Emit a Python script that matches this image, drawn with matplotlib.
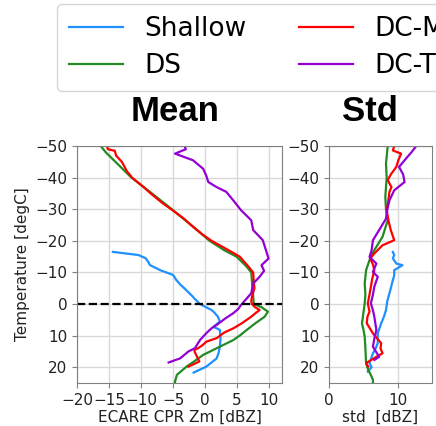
import matplotlib.pyplot as plt

# mean profiles (temperature in degC, value in dBZ)
mean_sh_t = [-16.5, -15.5, -14.5, -13.4, -12.3, -10.7, -9.2, -7.6, -6, -4.9, -2.3, -1.8, 0, 1.9, 2.4,
             4, 5.6, 7.2, 8.2, 11, 13.5, 15.5, 17.2, 18.5, 19.8, 21.7]
mean_sh = [-14.4, -10.4, -9.3, -8.9, -8.6, -7.0, -5.0, -4.5, -3.8, -3.2, -1.9, -1.7, -0.8, 1.0, 1.3,
           2.0, 2.3, 1.3, 2.3, 2.4, 2.3, 2.1, 1.8, 1.0, 0.2, -1.8]

mean_ds_t = [-50, -48, -45, -40, -35, -30, -25, -20, -17, -15, -12, -10, -5, 0, 1, 2.4, 4, 6, 8.2,
             10, 11.4, 14, 16.1, 18, 19.8, 22.4, 24.5, 25]
mean_ds = [-16.3, -15.5, -14.0, -11.5, -8.3, -5.2, -2.2, 0.7, 3.0, 4.9, 6.4, 7.2, 7.4, 7.6, 8.8, 9.8,
           9.3, 7.9, 6.5, 5.4, 4.4, 1.8, -0.3, -1.6, -2.9, -4.4, -4.7, -4.7]

mean_dcm_t = [-50, -49, -48.5, -47, -45, -42, -40, -37, -35, -32, -30, -27, -25, -22, -20, -18, -15,
              -12, -10, -7, -5, -3, -1, 0, 1, 1.9, 3, 4, 6, 7.7, 9, 10.8, 11.9, 13, 14, 14.5, 15.3,
              16.1, 18.2, 19.8]
mean_dcm = [-15.3, -15.2, -14.1, -13.9, -13.0, -12.2, -11.4, -9.6, -8.5, -6.7, -5.3, -3.3, -2.2, -0.4,
            1.0, 2.8, 5.4, 6.7, 7.5, 7.6, 7.7, 7.4, 7.2, 7.3, 7.8, 8.5, 7.8, 7.2, 5.8, 4.4, 3.0, 1.8,
            0.2, -0.4, -1.1, -1.7, -1.6, -1.4, -0.9, -2.6]

mean_dct_t = [-50, -49, -47.6, -45.5, -42.8, -40.5, -38.6, -37, -35.5, -32.8, -29.7, -26.5, -23.4,
              -20.2, -17, -14.4, -12.3, -10.5, -8.6, -6.5, -3.4, 0.3, 1.5, 2.9, 4.5, 6.6, 7.7, 9,
              10.3, 11.4, 14, 15, 17.2, 18.5]
mean_dct = [-3.2, -3.0, -4.7, -1.9, -0.3, 0.2, 0.5, 1.8, 3.3, 4.4, 5.6, 7.2, 7.5, 9.0, 9.5, 9.9, 8.8,
            9.2, 8.5, 7.5, 7.2, 5.6, 5.2, 4.4, 3.2, 1.8, 1.0, 0.3, -0.3, -0.8, -1.6, -2.6, -3.9, -5.7]

# std profiles
std_sh_t = [-16.5, -15.5, -14.5, -12.8, -12.3, -10.7, -9, -7.6, -5, -3.4, -1, 1.9, 4, 6.1, 9.3, 12.4,
            14, 15.6, 18.7, 20, 21.4]
std_sh = [9.3, 9.5, 9.3, 9.8, 10.7, 9.5, 9.5, 9.3, 9.0, 8.8, 8.5, 8.3, 8.0, 7.6, 7.1, 7.1, 6.8, 6.4,
          5.9, 6.2, 5.65]

std_ds_t = [-50, -44.4, -40, -33.9, -30, -26.5, -21.3, -18.1, -16, -13.9, -10.7, -6.5, -3, -0.2, 3,
            6.1, 8, 10.3, 14, 18.7, 20.8, 22, 24, 25]
std_ds = [8.55, 8.3, 8.4, 8.2, 8.3, 8.55, 7.8, 6.9, 6.3, 5.9, 5.4, 5.2, 5.3, 5.2, 5.0, 4.8, 5.0, 5.2,
          5.3, 5.4, 5.7, 6.0, 6.4, 6.4]

std_dcm_t = [-50, -48.6, -47.6, -45.5, -43.4, -41, -39.2, -37, -35.5, -32, -29.7, -26, -23.4, -20.2,
             -18.6, -16, -14.4, -12.5, -10.7, -8, -5.5, -3, -0.2, 2.4, 4, 6.1, 9.3, 12.4, 14, 15.6,
             16.7, 18.7, 19.8]
std_dcm = [9.5, 9.3, 10.5, 10.1, 9.8, 9.0, 8.55, 9.1, 8.8, 8.6, 8.4, 8.7, 9.0, 9.5, 7.8, 6.6, 6.0,
           6.4, 6.6, 6.3, 6.1, 5.9, 5.65, 5.9, 5.6, 5.5, 6.4, 7.6, 7.5, 7.8, 6.9, 5.4, 5.7]

std_dct_t = [-50, -48, -46.5, -43.4, -41, -38.6, -36, -32.8, -30, -27, -23.4, -20.2, -17, -14.9,
             -12.8, -10.2, -8.6, -5.5, -3, -0.2, 2, 4, 8.2, 11, 13.5, 16.7, 17.7]
std_dct = [12.7, 12.0, 11.4, 10.2, 10.8, 11.0, 9.5, 8.8, 8.5, 8.3, 7.3, 6.4, 6.2, 5.9, 6.9, 6.4, 7.1,
           6.6, 6.4, 6.1, 6.4, 6.6, 6.9, 6.6, 6.4, 7.3, 6.6]

labels = ["Shallow", "DS", "DC-M", "DC-T"]
colors = ["dodgerblue", "forestgreen", "red", "darkviolet"]

fig = plt.figure(figsize=(4.36, 4.26), dpi=100)
ax1 = fig.add_axes([0.1766, 0.1009, 0.4702, 0.5563])
ax2 = fig.add_axes([0.7546, 0.1009, 0.2362, 0.5563])

mean_data = [(mean_sh_t, mean_sh), (mean_ds_t, mean_ds), (mean_dcm_t, mean_dcm), (mean_dct_t, mean_dct)]
std_data = [(std_sh_t, std_sh), (std_ds_t, std_ds), (std_dcm_t, std_dcm), (std_dct_t, std_dct)]

lines = []
for (t, v), lab, c in zip(mean_data, labels, colors):
    ln, = ax1.plot(v, t, color=c, lw=1.6, label=lab)
    lines.append(ln)
for (t, v), c in zip(std_data, colors):
    ax2.plot(v, t, color=c, lw=1.6)

ax1.axhline(0, color="black", ls="--", lw=1.6)

for ax in (ax1, ax2):
    ax.set_ylim(25, -50)
    ax.set_yticks([-50, -40, -30, -20, -10, 0, 10, 20])
    ax.grid(True, color="#d9d9d9", lw=1)
    ax.set_axisbelow(True)
    for s in ax.spines.values():
        s.set_color("#808080")
    ax.tick_params(colors="#808080", labelcolor="#222222", labelsize=11)

ax1.set_xlim(-20, 12)
ax1.set_xticks([-20, -15, -10, -5, 0, 5, 10])
ax2.set_xlim(0, 15)
ax2.set_xticks([0, 10])

ax1.set_xlabel("ECARE CPR Zm [dBZ]", fontsize=11, color="#222222", labelpad=1.5)
ax2.set_xlabel("std  [dBZ]", fontsize=11, color="#222222", labelpad=1.5)
ax1.set_ylabel("Temperature [degC]", fontsize=11, color="#222222")

tfont = dict(family="Liberation Sans", weight="bold", size=25)
ax1.set_title("Mean", fontdict=tfont, pad=18, x=0.48)
ax2.set_title("Std", fontdict=tfont, pad=18, x=0.4)

fig.legend(handles=lines, loc="upper left", bbox_to_anchor=(57 / 436, 1 - 4 / 426),
           borderaxespad=0, ncol=2, fontsize=19, labelspacing=0.42, borderpad=0.45,
           handlelength=2.05, handletextpad=0.8, columnspacing=2.0, edgecolor="#cccccc")

plt.savefig("out.png", dpi=100)
plt.close()
